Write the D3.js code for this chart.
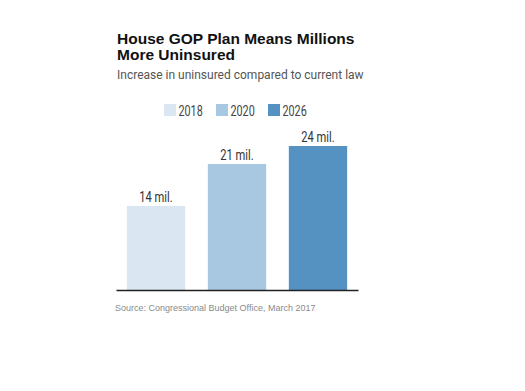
<!DOCTYPE html>
<html>
<head>
<meta charset="utf-8">
<script src="https://cdn.jsdelivr.net/npm/d3@7"></script>
<style>
  html, body { margin: 0; padding: 0; background: #fff; }
  svg { display: block; }
</style>
</head>
<body>
<svg id="chart" width="525" height="391"></svg>
<script>
const categories = ["2018", "2020", "2026"];
const values = [14, 21, 24];
const valueLabels = ["14 mil.", "21 mil.", "24 mil."];
const colors = ["#dae6f1", "#a8c7e1", "#5591c1"];
const titleLines = ["House GOP Plan Means Millions", "More Uninsured"];
const subtitle = "Increase in uninsured compared to current law";
const source = "Source: Congressional Budget Office, March 2017";

const svg = d3.select("#chart");
const cond = "Roboto, 'Liberation Sans', sans-serif";
const squeeze = 0.77;

svg.append("rect").attr("width", 525).attr("height", 391).attr("fill", "#fff");

// Title
svg.selectAll("text.title").data(titleLines).enter().append("text")
  .attr("class", "title")
  .attr("x", 117)
  .attr("y", (d, i) => 44 + i * 15.5)
  .attr("font-family", "'Liberation Sans', Arial, sans-serif")
  .attr("font-weight", "bold")
  .attr("font-size", 15.5)
  .attr("fill", "#111")
  .text(d => d);

svg.append("text")
  .attr("x", 117).attr("y", 79)
  .attr("font-family", cond)
  .attr("font-size", 12)
  .attr("fill", "#555")
  .text(subtitle);

// Scales
const x = d3.scaleBand().domain(categories).range([116, 358]).paddingInner(0.28).paddingOuter(0.134);
const y = d3.scaleLinear().domain([0, 24]).range([290, 146]);
const color = d3.scaleOrdinal().domain(categories).range(colors);

// Legend
const legendX = [164, 216, 268];
const lg = svg.selectAll("g.leg").data(categories).enter().append("g")
  .attr("class", "leg")
  .attr("transform", (d, i) => `translate(${legendX[i]},104)`);
lg.append("rect").attr("width", 12).attr("height", 12).attr("fill", d => color(d));
lg.append("text")
  .attr("transform", `translate(14.5,12) scale(${squeeze},1)`)
  .attr("font-family", cond).attr("font-size", 14).attr("fill", "#444")
  .text(d => d);

// Bars
const data = categories.map((c, i) => ({ c, v: values[i], label: valueLabels[i] }));
svg.selectAll("rect.bar").data(data).enter().append("rect")
  .attr("class", "bar")
  .attr("x", d => x(d.c))
  .attr("y", d => y(d.v))
  .attr("width", x.bandwidth())
  .attr("height", d => y(0) - y(d.v))
  .attr("fill", d => color(d.c));

svg.selectAll("text.val").data(data).enter().append("text")
  .attr("class", "val")
  .attr("transform", d => `translate(${x(d.c) + x.bandwidth() / 2},${y(d.v) - 4}) scale(${squeeze},1)`)
  .attr("text-anchor", "middle")
  .attr("font-family", cond).attr("font-size", 14.5).attr("fill", "#333")
  .text(d => d.label);

// Baseline axis
const axis = d3.axisBottom(x).tickSize(0).tickFormat("");
const ag = svg.append("g").attr("transform", `translate(0,${y(0)})`).call(axis);
ag.select(".domain").attr("stroke", "#222").attr("stroke-width", 1.5);

// Source
svg.append("text")
  .attr("x", 115).attr("y", 311)
  .attr("font-family", "'Liberation Sans', Arial, sans-serif")
  .attr("font-size", 9)
  .attr("fill", "#8a8a8a")
  .text(source);
</script>
</body>
</html>
